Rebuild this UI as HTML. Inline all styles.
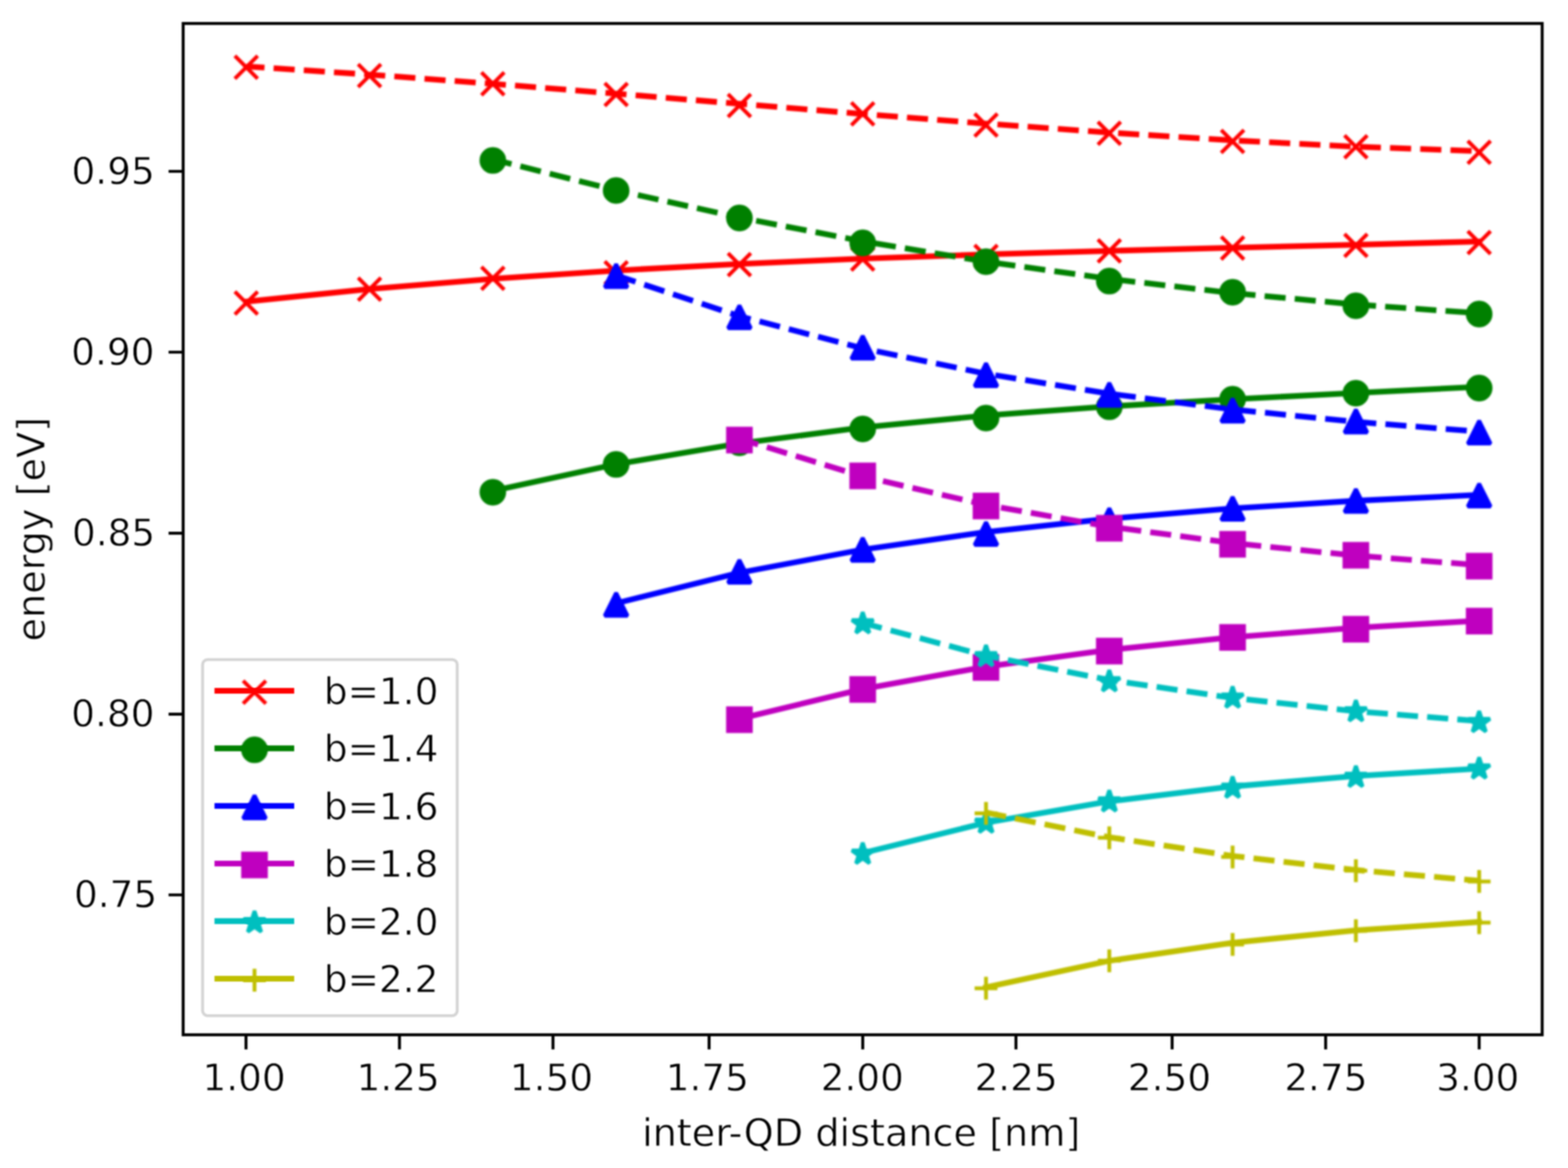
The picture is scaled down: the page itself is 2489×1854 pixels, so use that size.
<!DOCTYPE html>
<html lang="en"><head><meta charset="utf-8"><title>energy vs inter-QD distance</title>
<style>
html,body{margin:0;padding:0;background:#fff;}
body{width:2489px;height:1854px;overflow:hidden;}
svg{display:block;}
</style></head><body>
<svg width="2489" height="1854" viewBox="0 0 2489 1854" font-family="'DejaVu Sans', 'Liberation Sans', sans-serif" font-size="60.4px">
<defs><filter id="soft" color-interpolation-filters="sRGB" x="0" y="0" width="2489" height="1854" filterUnits="userSpaceOnUse"><feGaussianBlur stdDeviation="1.5"/></filter><filter id="crisp" color-interpolation-filters="sRGB" x="0" y="0" width="2489" height="1854" filterUnits="userSpaceOnUse"><feGaussianBlur stdDeviation="1.0"/></filter></defs>
<rect width="2489" height="1854" fill="#fff"/>
<g filter="url(#soft)">
<rect width="2489" height="1854" fill="#fff"/>
<g id="plot">
<polyline points="390.9,478.73 586.61,458.85 782.32,442.59 978.03,429.43 1173.74,418.91 1369.45,410.51 1565.16,403.76 1760.87,398.17 1956.58,393.24 2152.29,388.49 2348,383.42" fill="none" stroke="#ff0000" stroke-width="9.06" stroke-linecap="square" stroke-linejoin="round"/>
<path d="M372.78 462.78L409.02 499.02M372.78 499.02L409.02 462.78" stroke="#ff0000" stroke-width="6.04" fill="none"/>
<path d="M568.49 440.98L604.73 477.22M568.49 477.22L604.73 440.98" stroke="#ff0000" stroke-width="6.04" fill="none"/>
<path d="M764.2 423.58L800.44 459.82M764.2 459.82L800.44 423.58" stroke="#ff0000" stroke-width="6.04" fill="none"/>
<path d="M959.91 414.88L996.15 451.12M959.91 451.12L996.15 414.88" stroke="#ff0000" stroke-width="6.04" fill="none"/>
<path d="M1155.62 401.78L1191.86 438.02M1155.62 438.02L1191.86 401.78" stroke="#ff0000" stroke-width="6.04" fill="none"/>
<path d="M1351.33 393.08L1387.57 429.32M1351.33 429.32L1387.57 393.08" stroke="#ff0000" stroke-width="6.04" fill="none"/>
<path d="M1547.04 388.78L1583.28 425.02M1547.04 425.02L1583.28 388.78" stroke="#ff0000" stroke-width="6.04" fill="none"/>
<path d="M1742.75 380.08L1778.99 416.32M1742.75 416.32L1778.99 380.08" stroke="#ff0000" stroke-width="6.04" fill="none"/>
<path d="M1938.46 375.68L1974.7 411.92M1938.46 411.92L1974.7 375.68" stroke="#ff0000" stroke-width="6.04" fill="none"/>
<path d="M2134.17 371.38L2170.41 407.62M2134.17 407.62L2170.41 371.38" stroke="#ff0000" stroke-width="6.04" fill="none"/>
<path d="M2329.88 366.98L2366.12 403.22M2329.88 403.22L2366.12 366.98" stroke="#ff0000" stroke-width="6.04" fill="none"/>
<polyline points="390.9,105.42 586.61,118.4 782.32,133.01 978.03,148.68 1173.74,164.83 1369.45,180.89 1565.16,196.29 1760.87,210.47 1956.58,222.84 2152.29,232.85 2348,239.92" fill="none" stroke="#ff0000" stroke-width="9.06" stroke-dasharray="33.52 14.5" stroke-dashoffset="4.5" stroke-linejoin="round"/>
<path d="M372.78 88.68L409.02 124.92M372.78 124.92L409.02 88.68" stroke="#ff0000" stroke-width="6.04" fill="none"/>
<path d="M568.49 101.78L604.73 138.02M568.49 138.02L604.73 101.78" stroke="#ff0000" stroke-width="6.04" fill="none"/>
<path d="M764.2 114.88L800.44 151.12M764.2 151.12L800.44 114.88" stroke="#ff0000" stroke-width="6.04" fill="none"/>
<path d="M959.91 131.78L996.15 168.02M959.91 168.02L996.15 131.78" stroke="#ff0000" stroke-width="6.04" fill="none"/>
<path d="M1155.62 149.48L1191.86 185.72M1155.62 185.72L1191.86 149.48" stroke="#ff0000" stroke-width="6.04" fill="none"/>
<path d="M1351.33 162.58L1387.57 198.82M1351.33 198.82L1387.57 162.58" stroke="#ff0000" stroke-width="6.04" fill="none"/>
<path d="M1547.04 180.28L1583.28 216.52M1547.04 216.52L1583.28 180.28" stroke="#ff0000" stroke-width="6.04" fill="none"/>
<path d="M1742.75 193.28L1778.99 229.52M1742.75 229.52L1778.99 193.28" stroke="#ff0000" stroke-width="6.04" fill="none"/>
<path d="M1938.46 206.38L1974.7 242.62M1938.46 242.62L1974.7 206.38" stroke="#ff0000" stroke-width="6.04" fill="none"/>
<path d="M2134.17 214.78L2170.41 251.02M2134.17 251.02L2170.41 214.78" stroke="#ff0000" stroke-width="6.04" fill="none"/>
<path d="M2329.88 223.58L2366.12 259.82M2329.88 259.82L2366.12 223.58" stroke="#ff0000" stroke-width="6.04" fill="none"/>
<polyline points="782.32,779.15 978.03,736.87 1173.74,703.88 1369.45,678.61 1565.16,659.52 1760.87,645.06 1956.58,633.67 2152.29,623.81 2348,613.93" fill="none" stroke="#008000" stroke-width="9.06" stroke-linecap="square" stroke-linejoin="round"/>
<circle cx="782.32" cy="781.3" r="18.12" fill="#008000" stroke="#008000" stroke-width="6.04"/>
<circle cx="978.03" cy="737.2" r="18.12" fill="#008000" stroke="#008000" stroke-width="6.04"/>
<circle cx="1173.74" cy="702.9" r="18.12" fill="#008000" stroke="#008000" stroke-width="6.04"/>
<circle cx="1369.45" cy="680.8" r="18.12" fill="#008000" stroke="#008000" stroke-width="6.04"/>
<circle cx="1565.16" cy="663.6" r="18.12" fill="#008000" stroke="#008000" stroke-width="6.04"/>
<circle cx="1760.87" cy="645.7" r="18.12" fill="#008000" stroke="#008000" stroke-width="6.04"/>
<circle cx="1956.58" cy="633.7" r="18.12" fill="#008000" stroke="#008000" stroke-width="6.04"/>
<circle cx="2152.29" cy="624.1" r="18.12" fill="#008000" stroke="#008000" stroke-width="6.04"/>
<circle cx="2348" cy="616" r="18.12" fill="#008000" stroke="#008000" stroke-width="6.04"/>
<polyline points="782.32,252.98 978.03,302.07 1173.74,345.3 1369.45,382.96 1565.16,415.31 1760.87,442.65 1956.58,465.23 2152.29,483.34 2348,497.26" fill="none" stroke="#008000" stroke-width="9.06" stroke-dasharray="33.52 14.5" stroke-dashoffset="3" stroke-linejoin="round"/>
<circle cx="782.32" cy="254.7" r="18.12" fill="#008000" stroke="#008000" stroke-width="6.04"/>
<circle cx="978.03" cy="302.4" r="18.12" fill="#008000" stroke="#008000" stroke-width="6.04"/>
<circle cx="1173.74" cy="346" r="18.12" fill="#008000" stroke="#008000" stroke-width="6.04"/>
<circle cx="1369.45" cy="385.5" r="18.12" fill="#008000" stroke="#008000" stroke-width="6.04"/>
<circle cx="1565.16" cy="415.4" r="18.12" fill="#008000" stroke="#008000" stroke-width="6.04"/>
<circle cx="1760.87" cy="446.2" r="18.12" fill="#008000" stroke="#008000" stroke-width="6.04"/>
<circle cx="1956.58" cy="463.8" r="18.12" fill="#008000" stroke="#008000" stroke-width="6.04"/>
<circle cx="2152.29" cy="485.4" r="18.12" fill="#008000" stroke="#008000" stroke-width="6.04"/>
<circle cx="2348" cy="498.5" r="18.12" fill="#008000" stroke="#008000" stroke-width="6.04"/>
<polyline points="978.03,957.54 1173.74,909.15 1369.45,872.38 1565.16,844.45 1760.87,823.23 1956.58,807.11 2152.29,794.87 2348,785.56" fill="none" stroke="#0000ff" stroke-width="9.06" stroke-linecap="square" stroke-linejoin="round"/>
<path d="M978.03 941.13L959.91 977.37L996.15 977.37Z" fill="#0000ff" stroke="#0000ff" stroke-width="6.04" stroke-linejoin="bevel"/>
<path d="M1173.74 888.73L1155.62 924.97L1191.86 924.97Z" fill="#0000ff" stroke="#0000ff" stroke-width="6.04" stroke-linejoin="bevel"/>
<path d="M1369.45 853.93L1351.33 890.17L1387.57 890.17Z" fill="#0000ff" stroke="#0000ff" stroke-width="6.04" stroke-linejoin="bevel"/>
<path d="M1565.16 828.73L1547.04 864.97L1583.28 864.97Z" fill="#0000ff" stroke="#0000ff" stroke-width="6.04" stroke-linejoin="bevel"/>
<path d="M1760.87 806.83L1742.75 843.07L1778.99 843.07Z" fill="#0000ff" stroke="#0000ff" stroke-width="6.04" stroke-linejoin="bevel"/>
<path d="M1956.58 788.83L1938.46 825.07L1974.7 825.07Z" fill="#0000ff" stroke="#0000ff" stroke-width="6.04" stroke-linejoin="bevel"/>
<path d="M2152.29 776.23L2134.17 812.47L2170.41 812.47Z" fill="#0000ff" stroke="#0000ff" stroke-width="6.04" stroke-linejoin="bevel"/>
<path d="M2348 767.73L2329.88 803.97L2366.12 803.97Z" fill="#0000ff" stroke="#0000ff" stroke-width="6.04" stroke-linejoin="bevel"/>
<polyline points="978.03,437.08 1173.74,501.92 1369.45,553 1565.16,593.24 1760.87,624.94 1956.58,649.92 2152.29,669.6 2348,685.11" fill="none" stroke="#0000ff" stroke-width="9.06" stroke-dasharray="33.52 14.5" stroke-dashoffset="1" stroke-linejoin="round"/>
<path d="M978.03 419.43L959.91 455.67L996.15 455.67Z" fill="#0000ff" stroke="#0000ff" stroke-width="6.04" stroke-linejoin="bevel"/>
<path d="M1173.74 484.73L1155.62 520.97L1191.86 520.97Z" fill="#0000ff" stroke="#0000ff" stroke-width="6.04" stroke-linejoin="bevel"/>
<path d="M1369.45 533.03L1351.33 569.27L1387.57 569.27Z" fill="#0000ff" stroke="#0000ff" stroke-width="6.04" stroke-linejoin="bevel"/>
<path d="M1565.16 576.63L1547.04 612.87L1583.28 612.87Z" fill="#0000ff" stroke="#0000ff" stroke-width="6.04" stroke-linejoin="bevel"/>
<path d="M1760.87 607.93L1742.75 644.17L1778.99 644.17Z" fill="#0000ff" stroke="#0000ff" stroke-width="6.04" stroke-linejoin="bevel"/>
<path d="M1956.58 632.93L1938.46 669.17L1974.7 669.17Z" fill="#0000ff" stroke="#0000ff" stroke-width="6.04" stroke-linejoin="bevel"/>
<path d="M2152.29 650.13L2134.17 686.37L2170.41 686.37Z" fill="#0000ff" stroke="#0000ff" stroke-width="6.04" stroke-linejoin="bevel"/>
<path d="M2348 667.83L2329.88 704.07L2366.12 704.07Z" fill="#0000ff" stroke="#0000ff" stroke-width="6.04" stroke-linejoin="bevel"/>
<polyline points="1173.74,1140.97 1369.45,1093.74 1565.16,1058.25 1760.87,1031.6 1956.58,1011.58 2152.29,996.53 2348,985.23" fill="none" stroke="#bf00bf" stroke-width="9.06" stroke-linecap="square" stroke-linejoin="round"/>
<rect x="1155.62" y="1124.28" width="36.24" height="36.24" fill="#bf00bf" stroke="#bf00bf" stroke-width="6.04"/>
<rect x="1351.33" y="1076.28" width="36.24" height="36.24" fill="#bf00bf" stroke="#bf00bf" stroke-width="6.04"/>
<rect x="1547.04" y="1041.38" width="36.24" height="36.24" fill="#bf00bf" stroke="#bf00bf" stroke-width="6.04"/>
<rect x="1742.75" y="1015.38" width="36.24" height="36.24" fill="#bf00bf" stroke="#bf00bf" stroke-width="6.04"/>
<rect x="1938.46" y="993.68" width="36.24" height="36.24" fill="#bf00bf" stroke="#bf00bf" stroke-width="6.04"/>
<rect x="2134.17" y="980.68" width="36.24" height="36.24" fill="#bf00bf" stroke="#bf00bf" stroke-width="6.04"/>
<rect x="2329.88" y="967.78" width="36.24" height="36.24" fill="#bf00bf" stroke="#bf00bf" stroke-width="6.04"/>
<polyline points="1173.74,696.49 1369.45,756.21 1565.16,801.56 1760.87,835.98 1956.58,862.11 2152.29,881.95 2348,897.01" fill="none" stroke="#bf00bf" stroke-width="9.06" stroke-dasharray="33.52 14.5" stroke-dashoffset="2.5" stroke-linejoin="round"/>
<rect x="1155.62" y="680.38" width="36.24" height="36.24" fill="#bf00bf" stroke="#bf00bf" stroke-width="6.04"/>
<rect x="1351.33" y="737.28" width="36.24" height="36.24" fill="#bf00bf" stroke="#bf00bf" stroke-width="6.04"/>
<rect x="1547.04" y="785.08" width="36.24" height="36.24" fill="#bf00bf" stroke="#bf00bf" stroke-width="6.04"/>
<rect x="1742.75" y="820.38" width="36.24" height="36.24" fill="#bf00bf" stroke="#bf00bf" stroke-width="6.04"/>
<rect x="1938.46" y="845.88" width="36.24" height="36.24" fill="#bf00bf" stroke="#bf00bf" stroke-width="6.04"/>
<rect x="2134.17" y="863.28" width="36.24" height="36.24" fill="#bf00bf" stroke="#bf00bf" stroke-width="6.04"/>
<rect x="2329.88" y="880.58" width="36.24" height="36.24" fill="#bf00bf" stroke="#bf00bf" stroke-width="6.04"/>
<polyline points="1369.45,1354.11 1565.16,1305.9 1760.87,1272.08 1956.58,1248.37 2152.29,1231.75 2348,1220.09" fill="none" stroke="#00bfbf" stroke-width="9.06" stroke-linecap="square" stroke-linejoin="round"/>
<polygon points="1369.45,1337.58 1373.52,1350.1 1386.68,1350.1 1376.03,1357.84 1380.1,1370.36 1369.45,1362.62 1358.8,1370.36 1362.87,1357.84 1352.22,1350.1 1365.38,1350.1" fill="#00bfbf" stroke="#00bfbf" stroke-width="6.04" stroke-linejoin="bevel"/>
<polygon points="1565.16,1288.28 1569.23,1300.8 1582.39,1300.8 1571.74,1308.54 1575.81,1321.06 1565.16,1313.32 1554.51,1321.06 1558.58,1308.54 1547.93,1300.8 1561.09,1300.8" fill="#00bfbf" stroke="#00bfbf" stroke-width="6.04" stroke-linejoin="bevel"/>
<polygon points="1760.87,1254.48 1764.94,1267 1778.1,1267 1767.45,1274.74 1771.52,1287.26 1760.87,1279.52 1750.22,1287.26 1754.29,1274.74 1743.64,1267 1756.8,1267" fill="#00bfbf" stroke="#00bfbf" stroke-width="6.04" stroke-linejoin="bevel"/>
<polygon points="1956.58,1232.68 1960.65,1245.2 1973.81,1245.2 1963.16,1252.94 1967.23,1265.46 1956.58,1257.72 1945.93,1265.46 1950,1252.94 1939.35,1245.2 1952.51,1245.2" fill="#00bfbf" stroke="#00bfbf" stroke-width="6.04" stroke-linejoin="bevel"/>
<polygon points="2152.29,1215.58 2156.36,1228.1 2169.52,1228.1 2158.87,1235.84 2162.94,1248.36 2152.29,1240.62 2141.64,1248.36 2145.71,1235.84 2135.06,1228.1 2148.22,1228.1" fill="#00bfbf" stroke="#00bfbf" stroke-width="6.04" stroke-linejoin="bevel"/>
<polygon points="2348,1202.18 2352.07,1214.7 2365.23,1214.7 2354.58,1222.44 2358.65,1234.96 2348,1227.22 2337.35,1234.96 2341.42,1222.44 2330.77,1214.7 2343.93,1214.7" fill="#00bfbf" stroke="#00bfbf" stroke-width="6.04" stroke-linejoin="bevel"/>
<polyline points="1369.45,988.82 1565.16,1040.84 1760.87,1079.37 1956.58,1107.89 2152.29,1129.02 2348,1144.66" fill="none" stroke="#00bfbf" stroke-width="9.06" stroke-dasharray="33.52 14.5" stroke-dashoffset="2.3" stroke-linejoin="round"/>
<polygon points="1369.45,971.68 1373.52,984.2 1386.68,984.2 1376.03,991.94 1380.1,1004.46 1369.45,996.72 1358.8,1004.46 1362.87,991.94 1352.22,984.2 1365.38,984.2" fill="#00bfbf" stroke="#00bfbf" stroke-width="6.04" stroke-linejoin="bevel"/>
<polygon points="1565.16,1023.98 1569.23,1036.5 1582.39,1036.5 1571.74,1044.24 1575.81,1056.76 1565.16,1049.02 1554.51,1056.76 1558.58,1044.24 1547.93,1036.5 1561.09,1036.5" fill="#00bfbf" stroke="#00bfbf" stroke-width="6.04" stroke-linejoin="bevel"/>
<polygon points="1760.87,1063.78 1764.94,1076.3 1778.1,1076.3 1767.45,1084.04 1771.52,1096.56 1760.87,1088.82 1750.22,1096.56 1754.29,1084.04 1743.64,1076.3 1756.8,1076.3" fill="#00bfbf" stroke="#00bfbf" stroke-width="6.04" stroke-linejoin="bevel"/>
<polygon points="1956.58,1089.68 1960.65,1102.2 1973.81,1102.2 1963.16,1109.94 1967.23,1122.46 1956.58,1114.72 1945.93,1122.46 1950,1109.94 1939.35,1102.2 1952.51,1102.2" fill="#00bfbf" stroke="#00bfbf" stroke-width="6.04" stroke-linejoin="bevel"/>
<polygon points="2152.29,1111.38 2156.36,1123.9 2169.52,1123.9 2158.87,1131.64 2162.94,1144.16 2152.29,1136.42 2141.64,1144.16 2145.71,1131.64 2135.06,1123.9 2148.22,1123.9" fill="#00bfbf" stroke="#00bfbf" stroke-width="6.04" stroke-linejoin="bevel"/>
<polygon points="2348,1128.58 2352.07,1141.1 2365.23,1141.1 2354.58,1148.84 2358.65,1161.36 2348,1153.62 2337.35,1161.36 2341.42,1148.84 2330.77,1141.1 2343.93,1141.1" fill="#00bfbf" stroke="#00bfbf" stroke-width="6.04" stroke-linejoin="bevel"/>
<polyline points="1565.16,1567.18 1760.87,1525.14 1956.58,1496.43 2152.29,1476.82 2348,1463.43" fill="none" stroke="#bfbf00" stroke-width="9.06" stroke-linecap="square" stroke-linejoin="round"/>
<path d="M1547.04 1568.7L1583.28 1568.7M1565.16 1550.58L1565.16 1586.82" stroke="#bfbf00" stroke-width="6.04" fill="none"/>
<path d="M1742.75 1525.1L1778.99 1525.1M1760.87 1506.98L1760.87 1543.22" stroke="#bfbf00" stroke-width="6.04" fill="none"/>
<path d="M1938.46 1499.2L1974.7 1499.2M1956.58 1481.08L1956.58 1517.32" stroke="#bfbf00" stroke-width="6.04" fill="none"/>
<path d="M2134.17 1477.4L2170.41 1477.4M2152.29 1459.28L2152.29 1495.52" stroke="#bfbf00" stroke-width="6.04" fill="none"/>
<path d="M2329.88 1464.6L2366.12 1464.6M2348 1446.48L2348 1482.72" stroke="#bfbf00" stroke-width="6.04" fill="none"/>
<polyline points="1565.16,1289.79 1760.87,1329 1956.58,1358.64 2152.29,1381.06 2348,1398.01" fill="none" stroke="#bfbf00" stroke-width="9.06" stroke-dasharray="33.52 14.5" stroke-dashoffset="1.2" stroke-linejoin="round"/>
<path d="M1547.04 1291.1L1583.28 1291.1M1565.16 1272.98L1565.16 1309.22" stroke="#bfbf00" stroke-width="6.04" fill="none"/>
<path d="M1742.75 1329.8L1778.99 1329.8M1760.87 1311.68L1760.87 1347.92" stroke="#bfbf00" stroke-width="6.04" fill="none"/>
<path d="M1938.46 1360.3L1974.7 1360.3M1956.58 1342.18L1956.58 1378.42" stroke="#bfbf00" stroke-width="6.04" fill="none"/>
<path d="M2134.17 1382.1L2170.41 1382.1M2152.29 1363.98L2152.29 1400.22" stroke="#bfbf00" stroke-width="6.04" fill="none"/>
<path d="M2329.88 1399.2L2366.12 1399.2M2348 1381.08L2348 1417.32" stroke="#bfbf00" stroke-width="6.04" fill="none"/>
</g>
</g>
<g filter="url(#crisp)">
<rect x="290.75" y="37.25" width="2157.25" height="1605.3" fill="none" stroke="#000" stroke-width="4.7" stroke-linejoin="miter"/>
<path d="M390.5 1642.55v23.14M634.1 1642.55v23.14M877.8 1642.55v23.14M1125.6 1642.55v23.14M1369.5 1642.55v23.14M1612.7 1642.55v23.14M1860.6 1642.55v23.14M2104.3 1642.55v23.14M2348 1642.55v23.14M290.75 272h-23.14M290.75 559h-23.14M290.75 846.4h-23.14M290.75 1133.7h-23.14M290.75 1420.5h-23.14" stroke="#000" stroke-width="4.7" fill="none"/>
<g fill="#000" stroke="#fff" stroke-width="0.8">
<text x="387.45" y="1731.2" font-size="59.3" text-anchor="middle">1.00</text>
<text x="632" y="1731.2" font-size="59.3" text-anchor="middle">1.25</text>
<text x="875.35" y="1731.2" font-size="59.3" text-anchor="middle">1.50</text>
<text x="1122.75" y="1731.2" font-size="59.3" text-anchor="middle">1.75</text>
<text x="1368.8" y="1731.2" font-size="59.3" text-anchor="middle">2.00</text>
<text x="1612.9" y="1731.2" font-size="59.3" text-anchor="middle">2.25</text>
<text x="1856.35" y="1731.2" font-size="59.3" text-anchor="middle">2.50</text>
<text x="2104.65" y="1731.2" font-size="59.3" text-anchor="middle">2.75</text>
<text x="2345.8" y="1731.2" font-size="59.3" text-anchor="middle">3.00</text>
<text x="245.65" y="291.5" font-size="59.3" text-anchor="end">0.95</text>
<text x="245.15" y="578.5" font-size="59.3" text-anchor="end">0.90</text>
<text x="246.25" y="865.9" font-size="59.3" text-anchor="end">0.85</text>
<text x="245.15" y="1153.2" font-size="59.3" text-anchor="end">0.80</text>
<text x="249.5" y="1440" font-size="59.3" text-anchor="end">0.75</text>
<text x="1367" y="1818.5" font-size="60.6" text-anchor="middle">inter-QD distance [nm]</text>
<text transform="translate(70.8 840) rotate(-90)" font-size="60.6" text-anchor="middle">energy [eV]</text>
</g>
</g>
<g filter="url(#crisp)">
<rect x="321.6" y="1047.0" width="404.2" height="565.2" rx="8" ry="8" fill="#fff" fill-opacity="0.8" stroke="#d4d4d4" stroke-width="4.6"/>
<path d="M345 1096.5H462.5" stroke="#ff0000" stroke-width="9.06" stroke-linecap="square" fill="none"/>
<path d="M345 1187.9H462.5" stroke="#008000" stroke-width="9.06" stroke-linecap="square" fill="none"/>
<path d="M345 1279.3H462.5" stroke="#0000ff" stroke-width="9.06" stroke-linecap="square" fill="none"/>
<path d="M345 1370.7H462.5" stroke="#bf00bf" stroke-width="9.06" stroke-linecap="square" fill="none"/>
<path d="M345 1462.1H462.5" stroke="#00bfbf" stroke-width="9.06" stroke-linecap="square" fill="none"/>
<path d="M345 1553.5H462.5" stroke="#bfbf00" stroke-width="9.06" stroke-linecap="square" fill="none"/>
</g>
<g filter="url(#soft)">
<path d="M385.88 1080.68L422.12 1116.92M385.88 1116.92L422.12 1080.68" stroke="#ff0000" stroke-width="6.04" fill="none"/>
<circle cx="404" cy="1190.2" r="18.12" fill="#008000" stroke="#008000" stroke-width="6.04"/>
<path d="M404 1262.63L385.88 1298.87L422.12 1298.87Z" fill="#0000ff" stroke="#0000ff" stroke-width="6.04" stroke-linejoin="bevel"/>
<rect x="385.88" y="1354.88" width="36.24" height="36.24" fill="#bf00bf" stroke="#bf00bf" stroke-width="6.04"/>
<polygon points="404,1446.28 408.07,1458.8 421.23,1458.8 410.58,1466.54 414.65,1479.06 404,1471.32 393.35,1479.06 397.42,1466.54 386.77,1458.8 399.93,1458.8" fill="#00bfbf" stroke="#00bfbf" stroke-width="6.04" stroke-linejoin="bevel"/>
<path d="M385.88 1555.8L422.12 1555.8M404 1537.68L404 1573.92" stroke="#bfbf00" stroke-width="6.04" fill="none"/>
</g>
<g filter="url(#crisp)">
<text x="514" y="1118" font-size="59.4" fill="#000" stroke="#fff" stroke-width="0.8">b=1.0</text>
<text x="514" y="1209.4" font-size="59.4" fill="#000" stroke="#fff" stroke-width="0.8">b=1.4</text>
<text x="514" y="1300.8" font-size="59.4" fill="#000" stroke="#fff" stroke-width="0.8">b=1.6</text>
<text x="514" y="1392.2" font-size="59.4" fill="#000" stroke="#fff" stroke-width="0.8">b=1.8</text>
<text x="514" y="1483.6" font-size="59.4" fill="#000" stroke="#fff" stroke-width="0.8">b=2.0</text>
<text x="514" y="1575" font-size="59.4" fill="#000" stroke="#fff" stroke-width="0.8">b=2.2</text>
</g>
</svg>
</body></html>
